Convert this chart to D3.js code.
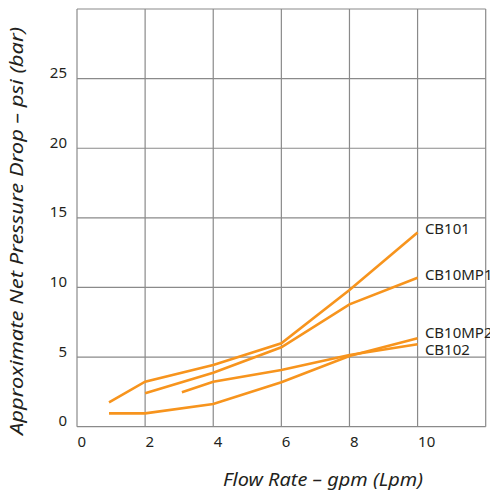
<!DOCTYPE html>
<html>
<head>
<meta charset="utf-8">
<script src="https://cdn.jsdelivr.net/npm/d3@7"></script>
<style>
    body { margin: 0; background: #fff; }
    text { font-family: "Noto Sans", "Open Sans", sans-serif; fill: #231f20; }
</style>
</head>
<body>
<div id="chart"></div>
<script>
// Flow rate (gpm) and pressure drop (psi)
var seriesNames = ["CB101", "CB10MP1", "CB10MP2", "CB102"];
var cb101X = [0.94, 2, 4, 6, 8, 10];
var cb101Y = [1.75, 3.23, 4.43, 5.99, 9.82, 13.94];
var cb10mp1X = [2, 4, 6, 8, 10];
var cb10mp1Y = [2.4, 3.88, 5.7, 8.79, 10.7];
var cb10mp2X = [0.94, 2, 4, 6, 8, 10];
var cb10mp2Y = [0.96, 0.96, 1.63, 3.19, 5.08, 6.35];
var cb102X = [3.08, 4, 6, 8, 10];
var cb102Y = [2.47, 3.23, 4.07, 5.15, 5.92];
var xTicks = [0, 2, 4, 6, 8, 10];
var yTicks = [0, 5, 10, 15, 20, 25];

function init() {
    var w = 490;
    var h = 493;
    var left = 77, right = 485.7, top = 9, bottom = 426.7;

    var xScale = d3.scaleLinear().domain([0, 12]).range([left, right]);
    var yScale = d3.scaleLinear().domain([0, 30]).range([bottom, top]);

    var svg = d3.select("#chart")
        .append("svg")
        .attr("width", w)
        .attr("height", h);

    // grid
    svg.append("g")
        .selectAll("line")
        .data(d3.range(0, 13, 2))
        .enter()
        .append("line")
        .attr("x1", function (d) { return xScale(d); })
        .attr("x2", function (d) { return xScale(d); })
        .attr("y1", top)
        .attr("y2", bottom)
        .attr("stroke", "#8a8a8a")
        .attr("stroke-width", 1.2);

    svg.append("g")
        .selectAll("line")
        .data(d3.range(0, 31, 5))
        .enter()
        .append("line")
        .attr("x1", left)
        .attr("x2", right)
        .attr("y1", function (d) { return yScale(d); })
        .attr("y2", function (d) { return yScale(d); })
        .attr("stroke", "#8a8a8a")
        .attr("stroke-width", 1.2);

    // tick labels
    svg.selectAll(".xtick")
        .data(xTicks)
        .enter()
        .append("text")
        .attr("class", "xtick")
        .attr("x", function (d) { return xScale(d) + 0.5; })
        .attr("y", 447)
        .attr("font-size", 15)
        .text(function (d) { return d; });

    svg.selectAll(".ytick")
        .data(yTicks)
        .enter()
        .append("text")
        .attr("class", "ytick")
        .attr("x", 67)
        .attr("y", function (d) { return yScale(d) - 0.5; })
        .attr("text-anchor", "end")
        .attr("font-size", 15)
        .text(function (d) { return d; });

    // series lines
    var series = [
        { name: seriesNames[0], xs: cb101X, ys: cb101Y, dy: 1.6 },
        { name: seriesNames[1], xs: cb10mp1X, ys: cb10mp1Y, dy: 2.3 },
        { name: seriesNames[2], xs: cb10mp2X, ys: cb10mp2Y, dy: 0 },
        { name: seriesNames[3], xs: cb102X, ys: cb102Y, dy: 10.7 }
    ];

    var line = d3.line()
        .x(function (d) { return xScale(d[0]); })
        .y(function (d) { return yScale(d[1]); });

    svg.selectAll(".series")
        .data(series)
        .enter()
        .append("path")
        .attr("class", "series")
        .attr("d", function (s) { return line(d3.zip(s.xs, s.ys)); })
        .attr("fill", "none")
        .attr("stroke", "#f7941d")
        .attr("stroke-width", 2.6);

    // series labels
    svg.selectAll(".slabel")
        .data(series)
        .enter()
        .append("text")
        .attr("class", "slabel")
        .attr("x", function (s) { return xScale(s.xs[s.xs.length - 1]) + 7.3; })
        .attr("y", function (s) { return yScale(s.ys[s.ys.length - 1]) + s.dy; })
        .attr("font-size", 15)
        .text(function (s) { return s.name; });

    // axis titles (reference face is wider, so stretch to its measured length)
    svg.append("text")
        .attr("x", 323)
        .attr("y", 486)
        .attr("text-anchor", "middle")
        .attr("font-size", 18)
        .attr("font-style", "italic")
        .attr("textLength", 200)
        .attr("lengthAdjust", "spacingAndGlyphs")
        .text("Flow Rate – gpm (Lpm)");

    svg.append("text")
        .attr("transform", "translate(23,231) rotate(-90)")
        .attr("text-anchor", "middle")
        .attr("font-size", 18)
        .attr("font-style", "italic")
        .attr("textLength", 408)
        .attr("lengthAdjust", "spacingAndGlyphs")
        .text("Approximate Net Pressure Drop – psi (bar)");
}

window.onload = init;
</script>
</body>
</html>
